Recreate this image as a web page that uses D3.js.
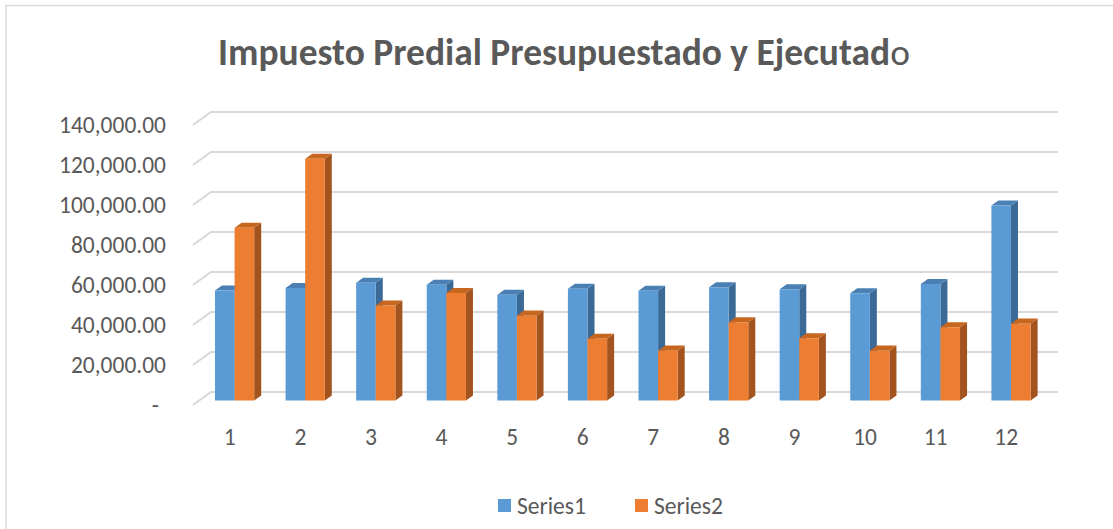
<!DOCTYPE html>
<html>
<head>
<meta charset="utf-8">
<script src="https://cdn.jsdelivr.net/npm/d3@7"></script>
<style>
  html, body { margin: 0; padding: 0; background: #fff; }
  svg { display: block; }
  text { font-family: Calibri, Carlito, Lato, "Open Sans", sans-serif; fill: #595959; }
</style>
</head>
<body>
<svg id="chart" width="1113" height="529"></svg>
<script>
const categories = ["1","2","3","4","5","6","7","8","9","10","11","12"];
const seriesNames = ["Series1", "Series2"];
const series1 = [55000, 56200, 58800, 57800, 52800, 55800, 54800, 56600, 55600, 53600, 58200, 97500];
const series2 = [86300, 120800, 47500, 53700, 42400, 30800, 24900, 39100, 31100, 24900, 36600, 38400];
const yTicks = [0, 20000, 40000, 60000, 80000, 100000, 120000, 140000];
const yTickLabels = ["-", "20,000.00", "40,000.00", "60,000.00", "80,000.00", "100,000.00", "120,000.00", "140,000.00"];
const titleBold = "Impuesto Predial Presupuestado y Ejecutad";
const titleTail = "o";

const colors = {
  Series1: {front: "#5B9BD5", side: "#3B6A96", top: "#4A80B3"},
  Series2: {front: "#ED7D31", side: "#A3531E", top: "#C7661F"}
};

const svg = d3.select("#chart");

// Oblique 3D projection: depth d in [0,1] shifts by (DX*d, DY*d)
const DX = 18, DY = -13;
const D1 = 0.35, D2 = 0.74;
const y = d3.scaleLinear().domain([0, 140000]).range([405, 125]);
const x = d3.scaleBand().domain(categories).range([193, 1040]).padding(0);
const half = 19.6;
const xs = d3.scaleBand().domain(seriesNames).range([-half, half]).padding(0);

function P(px, v, d) { return [px + DX * d, y(v) + DY * d]; }
const line = d3.line();

// chart border (top & left)
svg.append("line").attr("x1", 5).attr("x2", 1113).attr("y1", 5.5).attr("y2", 5.5)
  .attr("stroke", "#d9d9d9").attr("stroke-width", 1.5);
svg.append("line").attr("x1", 6).attr("x2", 6).attr("y1", 5).attr("y2", 529)
  .attr("stroke", "#d9d9d9").attr("stroke-width", 1.5);

// gridlines
svg.append("g").selectAll("path").data(yTicks).join("path")
  .attr("d", v => line([P(193, v, 0), P(193, v, 1), P(1040, v, 1)]))
  .attr("fill", "none").attr("stroke", "#d9d9d9").attr("stroke-width", 2);

// helper to fit font size to a target width
function fit(sel, targetWidth, base) {
  sel.attr("font-size", base);
  const w = sel.node().getComputedTextLength();
  const fs = base * targetWidth / w;
  sel.attr("font-size", fs);
  return fs;
}

// y axis labels
const yg = svg.append("g");
const probe = yg.append("text").text(yTickLabels[7]).attr("x", -1000).attr("y", -1000);
const axisFs = fit(probe, 107, 20);
probe.remove();
yg.selectAll("text").data(yTicks).join("text")
  .attr("x", (v, i) => i === 0 ? 159 : 166)
  .attr("y", v => y(v))
  .attr("text-anchor", "end")
  .attr("dominant-baseline", "central")
  .attr("font-size", axisFs)
  .text((v, i) => yTickLabels[i]);

// bars
const data = categories.map((c, i) => ({cat: c, vals: [
  {s: "Series1", v: series1[i]}, {s: "Series2", v: series2[i]}]}));
const bars = svg.append("g");
data.forEach(dd => {
  const cx = x(dd.cat) + x.bandwidth() / 2;
  dd.vals.forEach(b => {
    const xL = cx + xs(b.s), xR = xL + xs.bandwidth();
    const c = colors[b.s];
    const g = bars.append("g");
    g.append("path").attr("d", line([P(xR,0,D1), P(xR,0,D2), P(xR,b.v,D2), P(xR,b.v,D1)]) + "Z")
      .attr("fill", c.side);
    g.append("path").attr("d", line([P(xL,b.v,D1), P(xR,b.v,D1), P(xR,b.v,D2), P(xL,b.v,D2)]) + "Z")
      .attr("fill", c.top);
    g.append("path").attr("d", line([P(xL,0,D1), P(xR,0,D1), P(xR,b.v,D1), P(xL,b.v,D1)]) + "Z")
      .attr("fill", c.front);
  });
});

// category labels
svg.append("g").selectAll("text").data(categories).join("text")
  .attr("x", c => x(c) + x.bandwidth() / 2 + 1.5)
  .attr("y", 437)
  .attr("text-anchor", "middle")
  .attr("dominant-baseline", "central")
  .attr("font-size", axisFs)
  .text(c => c);

// title
const title = svg.append("text").attr("x", 564).attr("y", 52)
  .attr("text-anchor", "middle").attr("dominant-baseline", "central");
title.append("tspan").attr("font-weight", "bold").text(titleBold);
title.append("tspan").attr("font-weight", "normal").text(titleTail);
fit(title, 692, 30);

// legend
const leg = svg.append("g");
const legX = [498, 635];
seriesNames.forEach((s, i) => {
  leg.append("rect").attr("x", legX[i]).attr("y", 499).attr("width", 13).attr("height", 13)
    .attr("fill", colors[s].front);
  const t = leg.append("text").attr("x", legX[i] + 19).attr("y", 506)
    .attr("dominant-baseline", "central").text(s);
  fit(t, 69, 20);
});
</script>
</body>
</html>
